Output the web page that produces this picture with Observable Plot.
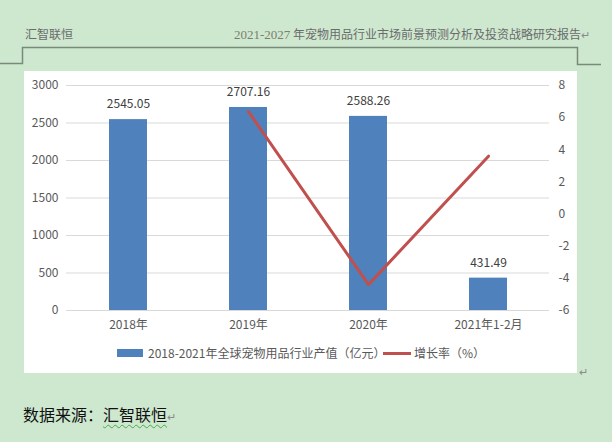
<!DOCTYPE html>
<html><head><meta charset="utf-8">
<script src="https://cdn.jsdelivr.net/npm/d3@7"></script>
<script src="https://cdn.jsdelivr.net/npm/@observablehq/plot@0.6"></script>
<style>
body{margin:0;width:612px;height:442px;background:#cde8cf;position:relative;overflow:hidden;font-family:"Noto Sans CJK SC","Noto Sans",sans-serif;}
.abs{position:absolute;white-space:nowrap;}
#box{position:absolute;left:24px;top:71px;width:553px;height:302px;background:#fff;}
#hdrL{left:25px;top:26px;font-size:12px;line-height:16px;color:#6b6b6b;}
#hdrR{left:234px;top:26px;font-size:12px;line-height:16px;color:#6b6b6b;}
#hdrR .num{font-family:"Liberation Serif","DejaVu Serif",serif;color:#7d7d70;font-size:13px;}
.mark{color:#8a8a8a;font-size:11px;}
.leg{font-size:12px;color:#595959;line-height:16px;}
#foot{left:23px;top:403px;font-size:16px;line-height:22px;color:#111;}
#foot .u{text-decoration:underline wavy #4aa84a;text-decoration-thickness:1px;text-underline-offset:3px;}
</style></head><body>
<svg class="abs" style="left:0;top:0" width="612" height="80"><path d="M0,63.5H22.5V47.5H577.5V64.5H601" fill="none" stroke="#7a8a7a" stroke-width="1.5"/></svg>
<div id="hdrL" class="abs">汇智联恒</div>
<div id="hdrR" class="abs"><span class="num">2021-2027</span> 年宠物用品行业市场前景预测分析及投资战略研究报告<span class="mark">↵</span></div>
<div id="box"></div>
<div class="abs leg" style="left:117px;top:349px;width:26px;height:8px;background:#4f81bd"></div>
<div class="abs leg" style="left:148px;top:345px;">2018-2021年全球宠物用品行业产值（亿元）</div>
<div class="abs leg" style="left:383px;top:352px;width:28px;height:3px;background:#c0504d"></div>
<div class="abs leg" style="left:414px;top:345px;">增长率（%）</div>
<div class="abs mark" style="left:579px;top:363px;">↵</div>
<div id="foot" class="abs">数据来源：<span class="u">汇智联恒</span><span class="mark">↵</span></div>
<script>
const categories = ["2018年", "2019年", "2020年", "2021年1-2月"];
const outputValues = [2545.05, 2707.16, 2588.26, 431.49];
const growthCategories = ["2019年", "2020年", "2021年1-2月"];
const growthValues = [6.37, -4.39, 3.6];
const leftTicks = [0, 500, 1000, 1500, 2000, 2500, 3000];
const rightTicks = [-6, -4, -2, 0, 2, 4, 6, 8];

const leftMax = 3000, rMin = -6, rMax = 8;
const toLeft = v => (v - rMin) / (rMax - rMin) * leftMax;
const fromLeft = t => Math.round(t / leftMax * (rMax - rMin) + rMin);

const bars = categories.map((c, i) => ({cat: c, value: outputValues[i]}));
const growth = growthCategories.map((c, i) => ({cat: c, g: toLeft(growthValues[i])}));

const chart = Plot.plot({
  width: 553, height: 270,
  marginLeft: 42, marginRight: 28, marginTop: 14, marginBottom: 31,
  style: {fontFamily: '"Noto Sans CJK SC","Noto Sans",sans-serif', fontSize: "12px", color: "#595959", background: "transparent", overflow: "visible"},
  x: {domain: categories, paddingInner: 0.685, paddingOuter: 0.3425, label: null},
  y: {domain: [0, leftMax], label: null},
  marks: [
    Plot.gridY(leftTicks, {stroke: "#d9d9d9", strokeOpacity: 1}),
    Plot.axisY(leftTicks, {tickSize: 0, tickPadding: 8, label: null, tickFormat: d => String(d)}),
    Plot.axisY(rightTicks.map(toLeft), {anchor: "right", tickSize: 0, tickPadding: 9, label: null, tickFormat: t => String(fromLeft(t))}),
    Plot.axisX({tickSize: 0, tickPadding: 10, label: null}),
    Plot.barY(bars, {x: "cat", y: "value", fill: "#4f81bd"}),
    Plot.text(bars, {x: "cat", y: "value", text: d => d.value.toFixed(2), dy: -15, fill: "#404040", fontSize: 12}),
    Plot.lineY(growth, {x: "cat", y: "g", stroke: "#c0504d", strokeWidth: 3})
  ]
});
document.getElementById("box").appendChild(chart);
</script>
</body></html>
